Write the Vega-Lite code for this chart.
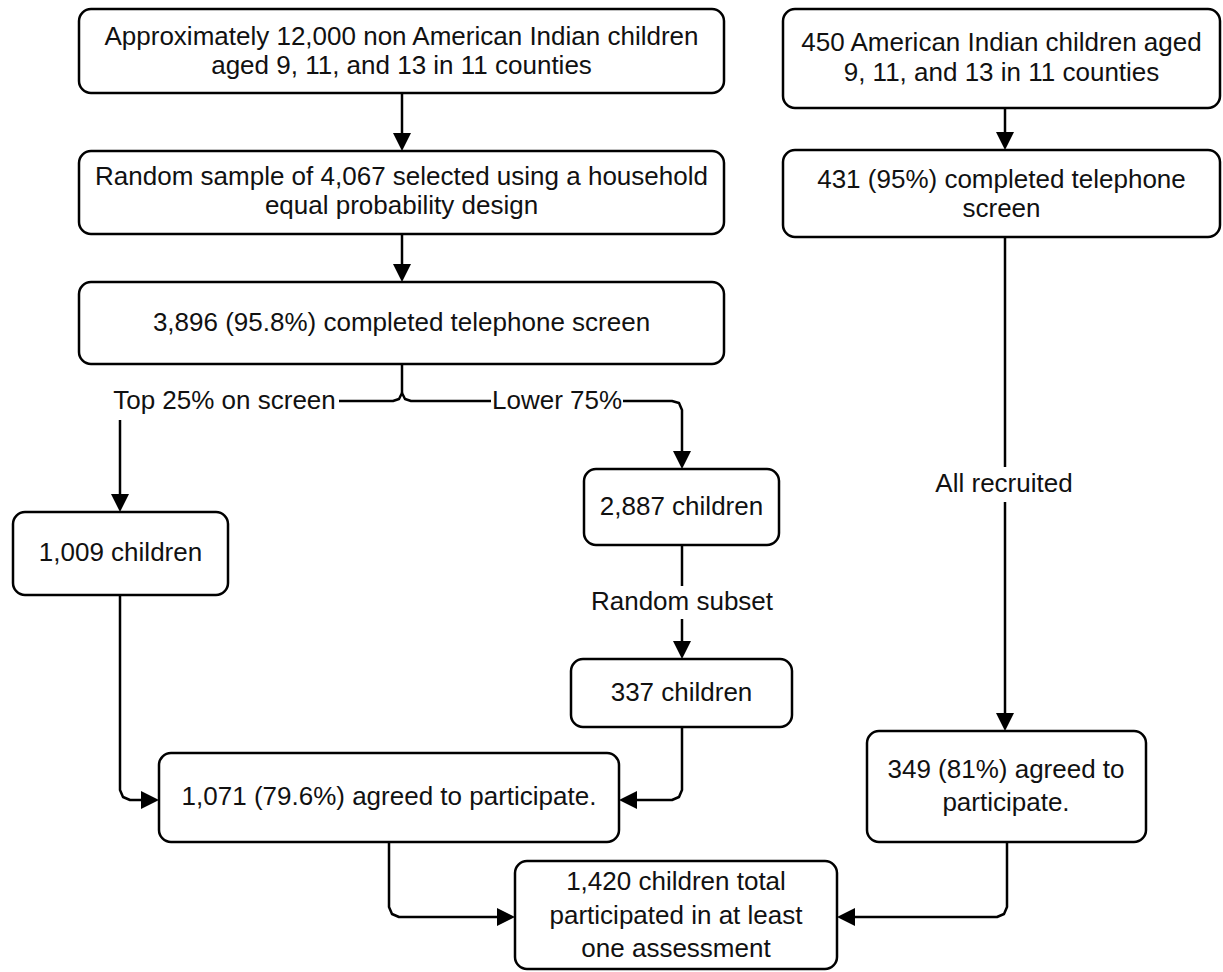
{
  "$schema": "https://vega.github.io/schema/vega-lite/v6.json",
  "width": 1223,
  "height": 972,
  "autosize": {"type": "fit", "contains": "padding"},
  "padding": 0,
  "background": "white",
  "config": {"view": {"stroke": null}},
  "datasets": {
    "boxes": [
      {"id": "B1", "x1": 79, "x2": 724, "y1": 9, "y2": 93},
      {"id": "B2", "x1": 783, "x2": 1220, "y1": 9, "y2": 108},
      {"id": "B3", "x1": 79, "x2": 724, "y1": 151, "y2": 234},
      {"id": "B4", "x1": 79, "x2": 724, "y1": 282, "y2": 364},
      {"id": "B5", "x1": 783, "x2": 1220, "y1": 150, "y2": 237},
      {"id": "B6", "x1": 13, "x2": 228, "y1": 512, "y2": 595},
      {"id": "B7", "x1": 584, "x2": 779, "y1": 469, "y2": 545},
      {"id": "B8", "x1": 571, "x2": 792, "y1": 659, "y2": 727},
      {"id": "B9", "x1": 159, "x2": 619, "y1": 753, "y2": 842},
      {"id": "B10", "x1": 867, "x2": 1146, "y1": 731, "y2": 842},
      {"id": "B11", "x1": 515, "x2": 837, "y1": 861, "y2": 969}
    ],
    "edges": [
      {"edge": "E1", "ord": 1, "x": 402, "y": 93},
      {"edge": "E1", "ord": 2, "x": 402, "y": 142},
      {"edge": "E2", "ord": 1, "x": 402, "y": 234},
      {"edge": "E2", "ord": 2, "x": 402, "y": 273},
      {"edge": "E3", "ord": 1, "x": 1005, "y": 108},
      {"edge": "E3", "ord": 2, "x": 1005, "y": 141},
      {"edge": "E4a", "ord": 1, "x": 1005, "y": 237},
      {"edge": "E4a", "ord": 2, "x": 1005, "y": 467},
      {"edge": "E4b", "ord": 1, "x": 1005, "y": 502},
      {"edge": "E4b", "ord": 2, "x": 1005, "y": 722},
      {"edge": "E5", "ord": 1, "x": 402, "y": 364},
      {"edge": "E5", "ord": 2, "x": 402, "y": 393},
      {"edge": "E5L", "ord": 1, "x": 402, "y": 393},
      {"edge": "E5L", "ord": 2, "x": 399, "y": 399},
      {"edge": "E5L", "ord": 3, "x": 393, "y": 401},
      {"edge": "E5L", "ord": 4, "x": 339, "y": 401},
      {"edge": "E5R", "ord": 1, "x": 402, "y": 393},
      {"edge": "E5R", "ord": 2, "x": 405, "y": 399},
      {"edge": "E5R", "ord": 3, "x": 411, "y": 401},
      {"edge": "E5R", "ord": 4, "x": 491, "y": 401},
      {"edge": "E6", "ord": 1, "x": 623, "y": 401},
      {"edge": "E6", "ord": 2, "x": 672, "y": 401},
      {"edge": "E6", "ord": 3, "x": 679, "y": 403},
      {"edge": "E6", "ord": 4, "x": 682, "y": 410},
      {"edge": "E6", "ord": 5, "x": 682, "y": 460},
      {"edge": "E7", "ord": 1, "x": 120, "y": 420},
      {"edge": "E7", "ord": 2, "x": 120, "y": 503},
      {"edge": "E8", "ord": 1, "x": 682, "y": 545},
      {"edge": "E8", "ord": 2, "x": 682, "y": 586},
      {"edge": "E9", "ord": 1, "x": 682, "y": 619},
      {"edge": "E9", "ord": 2, "x": 682, "y": 650},
      {"edge": "E10", "ord": 1, "x": 120, "y": 595},
      {"edge": "E10", "ord": 2, "x": 120, "y": 790},
      {"edge": "E10", "ord": 3, "x": 123, "y": 797},
      {"edge": "E10", "ord": 4, "x": 130, "y": 800},
      {"edge": "E10", "ord": 5, "x": 150, "y": 800},
      {"edge": "E11", "ord": 1, "x": 682, "y": 727},
      {"edge": "E11", "ord": 2, "x": 682, "y": 790},
      {"edge": "E11", "ord": 3, "x": 679, "y": 797},
      {"edge": "E11", "ord": 4, "x": 672, "y": 800},
      {"edge": "E11", "ord": 5, "x": 628, "y": 800},
      {"edge": "E12", "ord": 1, "x": 389, "y": 842},
      {"edge": "E12", "ord": 2, "x": 389, "y": 907},
      {"edge": "E12", "ord": 3, "x": 392, "y": 914},
      {"edge": "E12", "ord": 4, "x": 399, "y": 917},
      {"edge": "E12", "ord": 5, "x": 506, "y": 917},
      {"edge": "E13", "ord": 1, "x": 1007, "y": 842},
      {"edge": "E13", "ord": 2, "x": 1007, "y": 907},
      {"edge": "E13", "ord": 3, "x": 1004, "y": 914},
      {"edge": "E13", "ord": 4, "x": 997, "y": 917},
      {"edge": "E13", "ord": 5, "x": 846, "y": 917}
    ],
    "arrows": [
      {"x": 402, "y": 142, "dir": "down"},
      {"x": 402, "y": 273, "dir": "down"},
      {"x": 1005, "y": 141, "dir": "down"},
      {"x": 1005, "y": 722, "dir": "down"},
      {"x": 682, "y": 460, "dir": "down"},
      {"x": 120, "y": 503, "dir": "down"},
      {"x": 682, "y": 650, "dir": "down"},
      {"x": 150, "y": 800, "dir": "right"},
      {"x": 628, "y": 800, "dir": "left"},
      {"x": 506, "y": 917, "dir": "right"},
      {"x": 846, "y": 917, "dir": "left"}
    ],
    "texts": [
      {"x": 401.5, "y": 37, "text": "Approximately 12,000 non American Indian children"},
      {"x": 401.5, "y": 66, "text": "aged 9, 11, and 13 in 11 counties"},
      {"x": 1001.5, "y": 43, "text": "450 American Indian children aged"},
      {"x": 1001.5, "y": 73, "text": "9, 11, and 13 in 11 counties"},
      {"x": 401.5, "y": 177, "text": "Random sample of 4,067 selected using a household"},
      {"x": 401.5, "y": 206, "text": "equal probability design"},
      {"x": 401.5, "y": 323, "text": "3,896 (95.8%) completed telephone screen"},
      {"x": 1001.5, "y": 180, "text": "431 (95%) completed telephone"},
      {"x": 1001.5, "y": 209, "text": "screen"},
      {"x": 120.5, "y": 553, "text": "1,009 children"},
      {"x": 681.5, "y": 507, "text": "2,887 children"},
      {"x": 681.5, "y": 693, "text": "337 children"},
      {"x": 389, "y": 797, "text": "1,071 (79.6%) agreed to participate."},
      {"x": 1006, "y": 770, "text": "349 (81%) agreed to"},
      {"x": 1006, "y": 803, "text": "participate."},
      {"x": 676, "y": 882, "text": "1,420 children total"},
      {"x": 676, "y": 916, "text": "participated in at least"},
      {"x": 676, "y": 949, "text": "one assessment"},
      {"x": 224.5, "y": 401, "text": "Top 25% on screen"},
      {"x": 557, "y": 401, "text": "Lower 75%"},
      {"x": 1004, "y": 484, "text": "All recruited"},
      {"x": 682, "y": 602, "text": "Random subset"}
    ]
  },
  "layer": [
    {
      "data": {"name": "edges"},
      "mark": {"type": "line", "stroke": "black", "strokeWidth": 2.5, "strokeJoin": "round"},
      "encoding": {
        "x": {"field": "x", "type": "quantitative", "scale": {"domain": [0, 1223], "nice": false, "zero": false}, "axis": null},
        "y": {"field": "y", "type": "quantitative", "scale": {"domain": [0, 972], "nice": false, "zero": false, "reverse": true}, "axis": null},
        "detail": {"field": "edge", "type": "nominal"},
        "order": {"field": "ord", "type": "quantitative"}
      }
    },
    {
      "data": {"name": "boxes"},
      "mark": {"type": "rect", "fill": "white", "stroke": "black", "strokeWidth": 2.5, "cornerRadius": 12},
      "encoding": {
        "x": {"field": "x1", "type": "quantitative"},
        "x2": {"field": "x2"},
        "y": {"field": "y1", "type": "quantitative"},
        "y2": {"field": "y2"}
      }
    },
    {
      "data": {"name": "arrows"},
      "mark": {"type": "point", "filled": true, "fill": "black", "stroke": null, "size": 324, "opacity": 1},
      "encoding": {
        "x": {"field": "x", "type": "quantitative"},
        "y": {"field": "y", "type": "quantitative"},
        "shape": {"field": "dir", "type": "nominal", "legend": null,
          "scale": {"domain": ["down", "right", "left"], "range": ["M-1,-1L1,-1L0,1Z", "M-1,-1L1,0L-1,1Z", "M1,-1L-1,0L1,1Z"]}}
      }
    },
    {
      "data": {"name": "texts"},
      "mark": {"type": "text", "font": "Liberation Sans", "fontSize": 26, "color": "#111", "align": "center", "baseline": "middle"},
      "encoding": {
        "x": {"field": "x", "type": "quantitative"},
        "y": {"field": "y", "type": "quantitative"},
        "text": {"field": "text", "type": "nominal"}
      }
    }
  ]
}
